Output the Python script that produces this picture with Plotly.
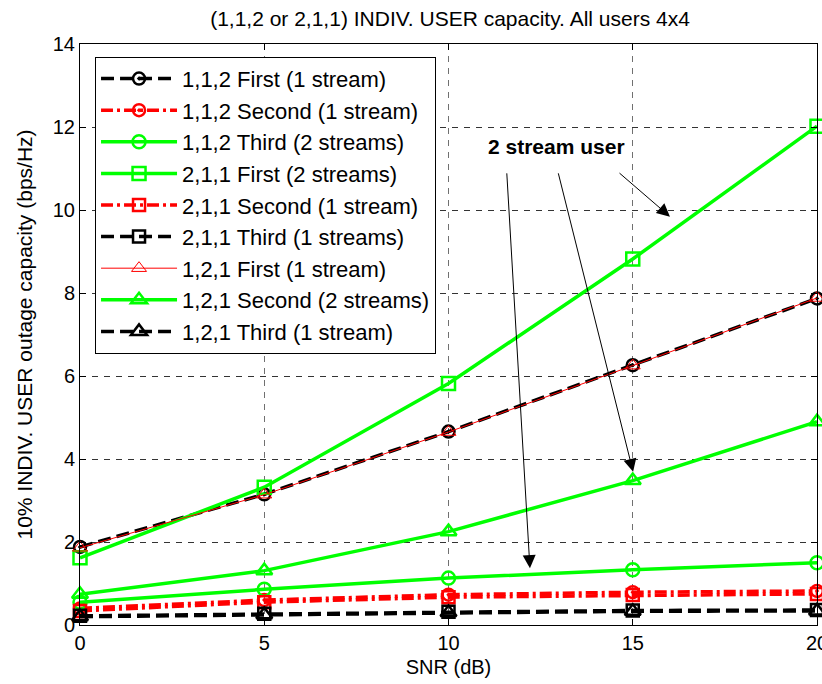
import plotly.graph_objects as go

snr = [0, 5, 10, 15, 20]
c112_first = [1.88, 3.15, 4.66, 6.26, 7.87]
c112_second = [0.40, 0.60, 0.73, 0.79, 0.82]
c112_third = [0.55, 0.86, 1.13, 1.33, 1.50]
c211_first = [1.62, 3.32, 5.82, 8.82, 12.02]
c211_second = [0.34, 0.55, 0.67, 0.72, 0.75]
c211_third = [0.22, 0.27, 0.32, 0.35, 0.36]
c121_first = [1.86, 3.14, 4.65, 6.25, 7.88]
c121_second = [0.74, 1.31, 2.25, 3.48, 4.90]
c121_third = [0.20, 0.25, 0.30, 0.33, 0.34]

names = ["1,1,2 First (1 stream)", "1,1,2 Second (1 stream)", "1,1,2 Third (2 streams)",
         "2,1,1 First (2 streams)", "2,1,1 Second (1 stream)", "2,1,1 Third (1 streams)",
         "1,2,1 First (1 stream)", "1,2,1 Second (2 streams)", "1,2,1 Third (1 stream)"]
series = [c112_first, c112_second, c112_third, c211_first, c211_second, c211_third,
          c121_first, c121_second, c121_third]

BLACK, RED, GREEN = "#000000", "#ff0000", "#00ff00"
DASH = "13px,6px"
DASHDOT = "12px,4px,3px,4px"
styles = [
    dict(color=BLACK, dash=DASH, width=3.5, symbol="circle-open-dot", ms=12, mlw=2.5),
    dict(color=RED, dash=DASHDOT, width=3.5, symbol="circle-open-dot", ms=12, mlw=2.5),
    dict(color=GREEN, dash="solid", width=3.5, symbol="circle-open", ms=13, mlw=2.5),
    dict(color=GREEN, dash="solid", width=3.5, symbol="square-open", ms=13, mlw=2.5),
    dict(color=RED, dash=DASHDOT, width=3.5, symbol="square-open", ms=12, mlw=2.5),
    dict(color=BLACK, dash=DASH, width=3.5, symbol="square-open", ms=12, mlw=2.5),
    dict(color=RED, dash="solid", width=1, symbol="triangle-up-open", ms=13, mlw=1),
    dict(color=GREEN, dash="solid", width=3.5, symbol="triangle-up-open", ms=14, mlw=2.5),
    dict(color=BLACK, dash=DASH, width=3.5, symbol="triangle-up-open", ms=14, mlw=2.5),
]

fig = go.Figure()
for i, (nm, ys, st) in enumerate(zip(names, series, styles)):
    fig.add_trace(go.Scatter(
        x=snr, y=ys, name=nm, mode="lines+markers",
        line=dict(color=st["color"], dash=st["dash"], width=st["width"]),
        marker=dict(symbol=st["symbol"], size=st["ms"], color=st["color"],
                    line=dict(color=st["color"], width=st["mlw"])),
        cliponaxis=False,
    ))

FONT = "Liberation Sans, Arial, sans-serif"
axis_common = dict(
    showline=True, linecolor="black", linewidth=1, mirror="ticks",
    ticks="inside", ticklen=6, tickcolor="black", automargin=False,
    showgrid=True, griddash="6px,6px", gridwidth=1, ticklabeloverflow="allow",
    zeroline=False, tickfont=dict(family=FONT, size=20, color="black"),
)
fig.update_xaxes(range=[0, 20], tickvals=[0, 5, 10, 15, 20], gridcolor="#707070",
                 title=dict(text="SNR (dB)", font=dict(family=FONT, size=20, color="black"), standoff=6),
                 **axis_common)
fig.update_yaxes(range=[0, 14], tickvals=[0, 2, 4, 6, 8, 10, 12, 14], gridcolor="#333333",
                 title=dict(text="10% INDIV. USER outage capacity (bps/Hz)",
                            font=dict(family=FONT, size=21, color="black"), standoff=14),
                 **axis_common)

arrows = [((11.58, 10.92), (12.21, 1.37)),
          ((12.97, 10.92), (15.01, 3.69)),
          ((14.60, 10.92), (16.01, 9.84))]
for (tx, ty), (hx, hy) in arrows:
    fig.add_annotation(x=hx, y=hy, ax=tx, ay=ty, xref="x", yref="y", axref="x", ayref="y",
                       text="", showarrow=True, arrowhead=2, arrowsize=2.6, arrowwidth=1,
                       arrowcolor="black", standoff=0, startstandoff=0)
fig.add_annotation(x=12.94, y=11.54, xref="x", yref="y", text="<b>2 stream user</b>",
                   showarrow=False, font=dict(family=FONT, size=21, color="black"))

fig.update_layout(
    width=822, height=684,
    margin=dict(l=80, r=5, t=44, b=59),
    paper_bgcolor="white", plot_bgcolor="white",
    title=dict(text="(1,1,2 or 2,1,1) INDIV. USER capacity. All users 4x4",
               x=450 / 822, xanchor="center", y=1 - 19 / 684, yanchor="middle",
               font=dict(family=FONT, size=21, color="black")),
    legend=dict(x=0.0204, y=0.978, xanchor="left", yanchor="top",
                bgcolor="white", bordercolor="black", borderwidth=1,
                font=dict(family=FONT, size=22, color="black"),
                tracegroupgap=0, itemwidth=76, traceorder="normal"),
    showlegend=True,
)

fig.write_html("out.html", config={"displayModeBar": False},
               post_script="document.body.style.margin='0';document.body.style.overflow='hidden';")
